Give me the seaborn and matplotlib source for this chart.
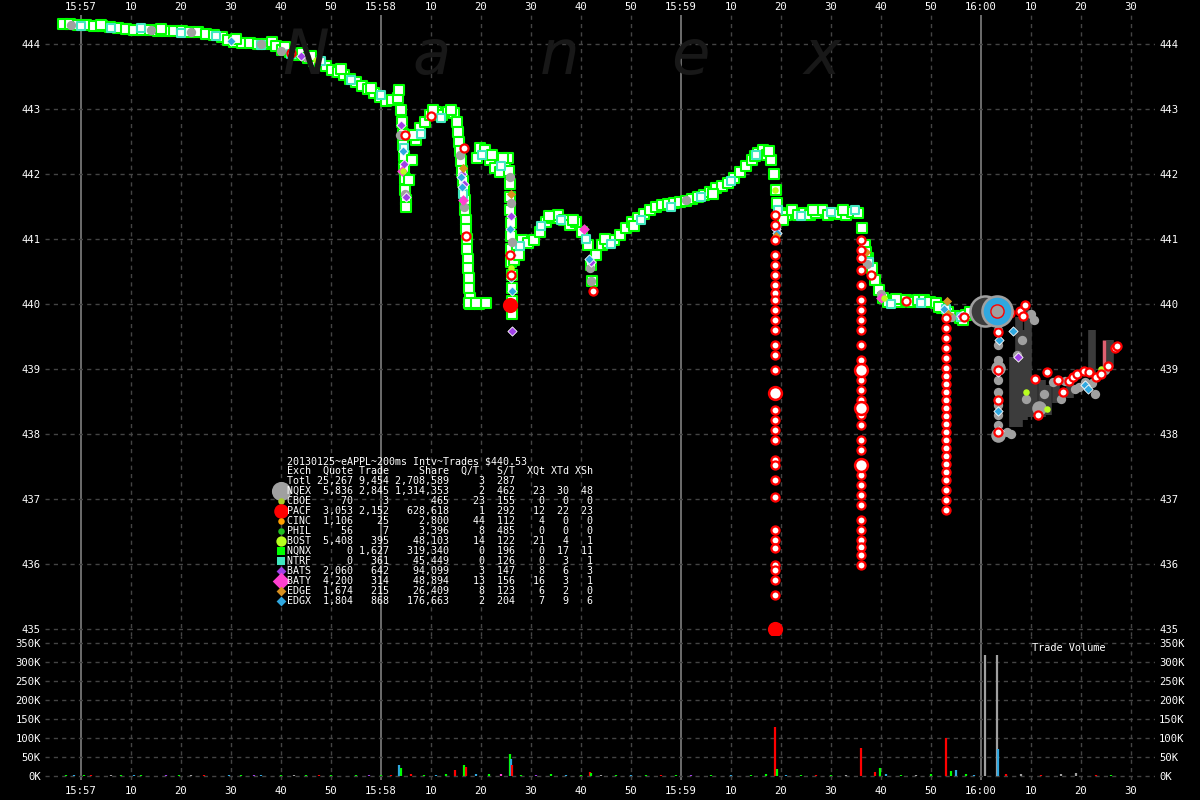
import matplotlib
matplotlib.use("Agg")
import matplotlib.pyplot as plt
import pandas as pd
import seaborn as sns

# Nanex style chart: AAPL trades 15:56:56 - 16:00:30, one point per trade
sns.set_theme(style="dark", rc={"axes.facecolor": "black", "figure.facecolor": "black"})
plt.rcParams["font.family"] = ["DejaVu Sans Mono", "DejaVu Sans"]

# time is seconds after 15:57:00
x_ticks = [0, 10, 20, 30, 40, 50, 60, 70, 80, 90, 100, 110, 120, 130, 140, 150, 160, 170, 180, 190, 200, 210]
x_labels = ["15:57", "10", "20", "30", "40", "50", "15:58", "10", "20", "30", "40", "50",
            "15:59", "10", "20", "30", "40", "50", "16:00", "10", "20", "30"]
minute_marks = [0, 60, 120, 180]
price_ticks = [435, 436, 437, 438, 439, 440, 441, 442, 443, 444]
vol_ticks = [0, 50000, 100000, 150000, 200000, 250000, 300000, 350000]
vol_labels = ["0K", "50K", "100K", "150K", "200K", "250K", "300K", "350K"]

# NQNX trades (main trail of squares)
nqnx = [(-3.6, 444.31), (-2.2, 444.31), (-0.6, 444.29), (1.0, 444.29), (2.6, 444.28), (4.2, 444.28),
        (5.8, 444.26), (7.4, 444.25), (9.0, 444.23), (10.6, 444.22), (12.2, 444.22), (13.8, 444.22),
        (15.4, 444.20), (17.0, 444.20), (18.6, 444.20), (20.2, 444.20), (21.8, 444.18), (23.4, 444.18),
        (25.0, 444.15), (26.6, 444.14), (28.2, 444.11), (29.4, 444.06), (30.6, 444.03), (32.2, 444.02),
        (33.8, 444.02), (35.4, 444.00), (37.0, 444.00), (38.2, 444.03), (39.0, 443.97), (40.2, 443.91),
        (41.8, 443.88), (43.0, 443.83), (44.2, 443.86), (45.4, 443.78), (46.6, 443.74), (47.8, 443.71),
        (49.0, 443.66), (50.2, 443.60), (51.4, 443.57), (52.6, 443.52), (53.8, 443.46), (55.0, 443.42),
        (56.2, 443.35), (57.4, 443.31), (58.6, 443.25), (59.8, 443.18), (61.0, 443.12), (62.2, 443.14),
        (63.4, 443.17), (64.0, 442.98), (64.2, 442.80), (64.4, 442.62), (64.4, 442.45), (64.6, 442.28),
        (64.6, 442.10), (64.8, 441.92), (64.8, 441.75), (65.0, 441.60), (65.0, 441.50), (65.6, 441.91),
        (66.2, 442.22), (67.0, 442.52), (67.8, 442.71), (68.8, 442.80), (69.8, 442.91), (71.0, 442.95),
        (72.2, 442.91), (73.4, 442.95), (74.6, 442.94), (75.2, 442.80), (75.4, 442.65), (75.6, 442.50),
        (75.8, 442.35), (76.0, 442.20), (76.2, 442.05), (76.4, 441.90), (76.6, 441.75), (76.8, 441.60),
        (76.8, 441.45), (77.0, 441.30), (77.0, 441.15), (77.2, 441.00), (77.2, 440.85), (77.4, 440.70),
        (77.4, 440.55), (77.6, 440.40), (77.6, 440.25), (77.8, 440.10), (77.8, 440.00), (79.6, 440.00),
        (81.0, 440.02), (79.2, 442.25), (79.8, 442.40), (80.8, 442.37), (81.8, 442.22), (82.8, 442.09),
        (83.8, 442.03), (84.8, 442.18), (85.4, 442.25), (85.6, 442.05), (85.8, 441.85), (85.8, 441.65),
        (85.8, 441.45), (86.0, 441.25), (86.0, 441.05), (86.0, 440.85), (86.0, 440.65), (86.2, 440.45),
        (86.2, 440.25), (86.2, 440.05), (86.2, 439.85), (86.6, 440.68), (87.2, 440.91), (88.2, 440.98),
        (89.4, 440.94), (90.6, 440.98), (91.8, 441.11), (93.0, 441.26), (94.2, 441.32), (95.4, 441.37),
        (96.6, 441.29), (97.8, 441.22), (99.0, 441.26), (100.2, 441.11), (101.4, 440.91), (102.0, 440.60),
        (102.2, 440.35), (103.0, 440.75), (104.2, 440.91), (105.4, 440.94), (106.6, 440.98), (107.8, 441.06),
        (109.0, 441.17), (110.2, 441.26), (111.4, 441.32), (112.6, 441.38), (113.8, 441.45), (115.0, 441.49),
        (116.2, 441.52), (117.4, 441.54), (118.6, 441.55), (119.8, 441.57), (121.0, 441.58), (122.2, 441.62),
        (123.4, 441.65), (124.6, 441.68), (125.8, 441.72), (127.0, 441.78), (128.2, 441.82), (129.4, 441.86),
        (130.6, 441.94), (131.8, 442.03), (133.0, 442.12), (134.2, 442.22), (135.4, 442.32), (136.4, 442.37),
        (137.2, 442.29), (138.0, 442.22), (138.6, 442.00), (139.0, 441.75), (139.2, 441.55), (139.8, 441.40),
        (141.0, 441.37), (142.2, 441.45), (143.4, 441.37), (144.6, 441.40), (145.8, 441.37), (147.0, 441.40),
        (148.2, 441.45), (149.4, 441.37), (150.6, 441.40), (151.8, 441.38), (153.0, 441.37), (154.2, 441.42),
        (155.4, 441.40), (156.2, 441.17), (156.8, 440.91), (157.4, 440.71), (158.2, 440.55), (158.8, 440.37),
        (159.6, 440.22), (160.4, 440.09), (161.4, 440.03), (162.6, 440.06), (163.8, 440.03), (165.0, 440.06),
        (166.2, 440.03), (167.4, 440.06), (168.6, 440.06), (169.8, 440.03), (171.0, 440.02), (172.2, 439.94),
        (173.4, 439.88), (174.6, 439.82), (175.8, 439.78), (177.0, 439.83), (177.8, 439.88)]

ntrf = [(0.0, 444.27), (6.0, 444.24), (12.0, 444.24), (20.0, 444.17), (27.0, 444.12), (36.0, 443.98),
        (42.0, 443.85), (48.0, 443.74), (54.0, 443.44), (60.0, 443.22), (64.6, 442.40), (68.0, 442.62),
        (72.0, 442.86), (76.4, 441.70), (80.2, 442.30), (84.0, 442.12), (87.8, 440.90), (92.0, 441.20),
        (96.0, 441.30), (101.0, 441.00), (106.0, 440.92), (112.0, 441.30), (118.0, 441.50), (124.0, 441.64),
        (130.0, 441.90), (135.0, 442.30), (139.4, 441.45), (144.0, 441.35), (150.0, 441.42), (154.8, 441.45),
        (157.6, 440.65), (162.0, 440.00), (168.0, 440.02), (173.0, 439.92), (176.0, 439.80)]

# scattered NQNX prints that sit off the main trail
nqnx_off = [(4.0, 444.30), (16.0, 444.23), (31.0, 444.07), (40.8, 443.96), (46.0, 443.82), (52.0, 443.62),
            (58.0, 443.32), (63.6, 443.30), (66.6, 442.60), (70.4, 442.99), (74.0, 442.98), (77.6, 440.02),
            (79.0, 440.02), (82.2, 442.30), (84.4, 442.25), (87.6, 440.75), (93.6, 441.35), (98.4, 441.30),
            (104.8, 441.00), (110.6, 441.20), (126.4, 441.70), (134.8, 442.28), (137.6, 442.35), (140.4, 441.30),
            (146.4, 441.45), (152.4, 441.45), (157.0, 440.80), (163.0, 440.08), (171.6, 439.95), (176.4, 439.75)]

nqex = [(-2.0, 444.30), (14.0, 444.22), (22.0, 444.18), (36.0, 444.00), (40.0, 443.90), (45.0, 443.80),
        (63.8, 442.60), (64.8, 441.70), (75.8, 442.30), (76.5, 441.50), (85.8, 441.95), (86.0, 441.55),
        (86.2, 440.95), (101.8, 440.55), (101.9, 440.35), (121.0, 441.60), (139.0, 441.20), (157.2, 440.62),
        (160.0, 440.15), (174.0, 439.80),
        (183.4, 439.75), (183.4, 439.60), (183.4, 439.37), (183.4, 439.14), (183.4, 438.83), (183.4, 438.65),
        (183.4, 438.45), (183.4, 438.29), (183.4, 438.14), (185.2, 438.03), (186.0, 438.00), (187.2, 439.21),
        (188.2, 439.44), (189.0, 438.54), (190.0, 439.85), (190.6, 439.75), (192.6, 438.62), (194.4, 438.80),
        (196.0, 438.54), (196.8, 438.82), (198.8, 438.69), (199.6, 438.73), (200.8, 438.80), (202.2, 438.78),
        (202.8, 438.62), (204.8, 438.98)]
nqex_big = [(183.4, 439.02), (183.3, 437.98), (191.6, 438.40)]

bats = [(44.0, 443.82), (64.0, 442.75), (64.6, 442.15), (65.0, 441.65), (76.2, 442.00), (76.6, 441.85),
        (86.0, 441.35), (86.1, 440.75), (86.2, 439.58), (102.0, 440.65), (139.0, 441.15), (176.0, 439.82),
        (183.3, 438.95), (183.5, 438.05), (187.4, 439.18)]
edgx = [(30.0, 444.05), (64.4, 442.35), (76.0, 441.95), (76.2, 441.80), (85.8, 441.15), (86.0, 440.40),
        (86.1, 440.20), (101.6, 440.70), (139.1, 441.10), (172.5, 439.92), (183.5, 439.45), (183.4, 438.35),
        (186.4, 439.58), (200.8, 438.75), (201.4, 438.70)]
edge = [(76.4, 442.10), (86.0, 441.70), (139.0, 441.05), (157.0, 440.80), (173.2, 440.05), (173.3, 439.85)]
baty = [(64.2, 442.05), (76.3, 441.60), (100.5, 441.15), (160.0, 440.10)]
bost = [(47.0, 443.75), (64.4, 442.05), (86.0, 440.55), (138.7, 441.75), (160.5, 440.10),
        (183.4, 438.55), (189.0, 438.65), (193.2, 438.38), (204.0, 439.00)]

# PACF trades: white dots edged red, the three plunges after 15:59
pacf = [(42.0, 443.86), (64.8, 442.60), (70.0, 442.90), (76.6, 442.40), (77.0, 441.05), (85.8, 440.75),
        (86.0, 440.45), (102.4, 440.20), (158.0, 440.45), (165.0, 440.05), (176.5, 439.80),
        (138.8, 441.37), (138.8, 441.22), (138.8, 440.98), (138.8, 440.75), (138.8, 440.60), (138.8, 440.45),
        (138.8, 440.29), (138.8, 440.17), (138.8, 440.06), (138.8, 439.91), (138.8, 439.75), (138.8, 439.60),
        (138.8, 439.37), (138.8, 439.22), (138.8, 438.98), (138.8, 438.37), (138.8, 438.22), (138.8, 438.06),
        (138.8, 437.91), (138.8, 437.60), (138.8, 437.52), (138.8, 437.29), (138.8, 437.03), (138.8, 436.52),
        (138.8, 436.37), (138.8, 436.25), (138.8, 435.98), (138.8, 435.91), (138.8, 435.75), (138.8, 435.52),
        (156.0, 440.98), (156.0, 440.83), (156.0, 440.71), (156.0, 440.52), (156.0, 440.29), (156.0, 440.06),
        (156.0, 439.91), (156.0, 439.75), (156.0, 439.60), (156.0, 439.37), (156.0, 439.14), (156.0, 438.83),
        (156.0, 438.68), (156.0, 438.52), (156.0, 438.29), (156.0, 438.14), (156.0, 437.91), (156.0, 437.75),
        (156.0, 437.37), (156.0, 437.22), (156.0, 437.06), (156.0, 436.91), (156.0, 436.68), (156.0, 436.52),
        (156.0, 436.37), (156.0, 436.26), (156.0, 436.14), (156.0, 435.98),
        (173.0, 439.78), (173.0, 439.63), (173.0, 439.48), (173.0, 439.32), (173.0, 439.17), (173.0, 439.02),
        (173.0, 438.89), (173.0, 438.77), (173.0, 438.65), (173.0, 438.52), (173.0, 438.40), (173.0, 438.28),
        (173.0, 438.15), (173.0, 438.03), (173.0, 437.91), (173.0, 437.78), (173.0, 437.66), (173.0, 437.54),
        (173.0, 437.42), (173.0, 437.29), (173.0, 437.14), (173.0, 436.98), (173.0, 436.83),
        (183.4, 439.78), (183.4, 439.57), (183.4, 438.98), (183.4, 438.52), (183.4, 438.03),
        (185.8, 439.86), (187.8, 439.89), (188.8, 439.98), (188.4, 439.81), (190.8, 438.85), (191.4, 438.30),
        (193.2, 438.95), (195.4, 438.83), (196.4, 438.65), (197.6, 438.82), (198.4, 438.88), (199.2, 438.92),
        (200.6, 438.97), (201.6, 438.95), (203.0, 438.88), (204.0, 438.93), (205.4, 439.05), (206.8, 439.32),
        (207.2, 439.35)]
pacf_big = [(138.8, 438.63), (156.0, 438.98), (156.0, 437.52), (156.0, 438.40)]
pacf_solid = [(138.8, 435.00), (85.8, 439.98)]

# the two large prints just after 16:00
big_prints = [(180.8, 439.89), (183.2, 439.89)]

# high-low bars after 16:00: time, low, high
bar_t = [186.4, 187.6, 188.6, 189.4, 190.6, 192.2, 193.4, 195.0, 197.8, 202.2, 205.8]
bar_lo = [438.11, 438.11, 438.22, 438.26, 438.26, 438.26, 438.29, 438.48, 438.55, 438.88, 439.03]
bar_hi = [439.18, 439.80, 439.60, 439.91, 438.83, 438.83, 438.75, 438.78, 438.83, 439.60, 439.45]

# trade volume per 200ms interval: time, shares, exchange
vol_t = [-3.0, -1.5, 0.5, 2.0, 3.5, 6.0, 8.0, 10.5, 12.0, 14.5, 17.0, 19.5, 22.0, 24.5, 27.0, 29.5,
         32.0, 34.5, 36.0, 38.0, 40.0, 42.5, 45.0, 47.5, 50.0, 52.5, 55.0, 57.5, 60.0, 62.0, 63.6, 64.0,
         66.0, 68.5, 71.0, 73.0, 74.8, 76.6, 77.0, 79.0, 81.5, 84.0, 85.8, 86.0, 86.2, 88.0, 91.0, 94.0,
         97.0, 100.0, 101.8, 102.0, 104.0, 107.0, 110.0, 113.0, 116.0, 119.0, 122.0, 126.0, 130.0, 134.0,
         137.0, 138.8, 139.2, 141.0, 144.0, 147.0, 150.0, 153.0, 156.0, 158.8, 159.8, 161.0, 164.0, 167.0,
         170.0, 173.0, 174.0, 175.0, 177.0, 178.5, 180.8, 183.2, 183.4, 185.0, 188.0, 192.0, 196.0, 199.0,
         203.0, 206.0]
vol_v = [2000, 1500, 2500, 1800, 1200, 2200, 1600, 1400, 2000, 1300, 1700, 2400, 1500, 1900, 1300, 2100,
         1800, 1500, 3000, 1200, 2600, 1800, 1400, 2300, 1600, 1200, 2000, 1500, 2800, 3500, 30000, 22000,
         4000, 2500, 3000, 5000, 16000, 30000, 25000, 6000, 4000, 5500, 58000, 45000, 30000, 3500, 2500, 4500,
         3000, 2200, 10000, 7000, 3000, 2000, 2500, 1800, 2200, 3000, 1500, 2600, 2000, 3500,
         4000, 128000, 18000, 3000, 2500, 2000, 3200, 2400, 75000, 10000, 20000, 6000, 3000, 2500,
         4000, 100000, 12000, 15000, 5000, 3000, 318000, 318000, 70000, 4000, 5000, 3000, 6000, 8000,
         3500, 2500]
vol_ex = ["NQNX", "EDGX", "NQNX", "PACF", "NQNX", "NQEX", "NQNX", "EDGX", "NQNX", "PACF", "BATS", "NQNX",
          "NQEX", "PACF", "NQNX", "EDGX", "NQNX", "BATS", "EDGX", "PACF", "NQNX", "NQEX", "NQNX", "PACF",
          "NQNX", "EDGX", "NQNX", "BATS", "NQNX", "PACF", "EDGX", "NQNX",
          "PACF", "NQNX", "EDGX", "NQNX", "PACF", "NQNX", "PACF", "EDGX", "NQNX", "BATY", "NQNX", "EDGX",
          "PACF", "NQNX", "BATS", "NQNX", "EDGX", "NQNX", "PACF", "NQNX", "NQEX", "NQNX", "EDGX", "NQNX",
          "PACF", "NQNX", "BATS", "NQNX", "EDGX", "NQNX", "NQNX", "PACF", "NQNX", "EDGX", "NQNX", "PACF",
          "NQNX", "NQEX", "PACF", "PACF", "NQNX", "EDGX", "NQNX", "NQEX", "NQNX", "PACF", "NQNX", "EDGX",
          "NQNX", "EDGX", "NQEX", "NQEX", "EDGX", "PACF", "NQEX", "PACF", "NQEX", "NQEX", "PACF", "NQNX"]

# summary table
exch = ["NQEX", "CBOE", "PACF", "CINC", "PHIL", "BOST", "NQNX", "NTRF", "BATS", "BATY", "EDGE", "EDGX"]
quote = [5836, 70, 3053, 1106, 56, 5408, 0, 0, 2060, 4200, 1674, 1804]
trade = [2845, 3, 2152, 25, 7, 395, 1627, 361, 642, 314, 215, 868]
share = [1314353, 465, 628618, 2800, 3396, 48103, 319340, 45449, 94099, 48894, 26409, 176663]
q_t = [2, 23, 1, 44, 8, 14, 0, 0, 3, 13, 8, 2]
s_t = [462, 155, 292, 112, 485, 122, 196, 126, 147, 156, 123, 204]
x_qt = [23, 0, 12, 4, 0, 21, 0, 0, 8, 16, 6, 7]
x_td = [30, 0, 22, 0, 0, 4, 17, 3, 6, 3, 2, 9]
x_sh = [48, 0, 23, 0, 0, 1, 11, 1, 3, 1, 0, 6]
total = ["Totl", 25267, 9454, 2708589, 3, 287]

colors = {"NQEX": "#a0a0a0", "CBOE": "#a8d028", "PACF": "#ff0000", "CINC": "#ffa000",
          "PHIL": "#20c020", "BOST": "#b8ff20", "NQNX": "#00ff00", "NTRF": "#40e8c0",
          "BATS": "#a040e8", "BATY": "#ff40d0", "EDGE": "#d89020", "EDGX": "#30a8e0"}
legend_style = {"NQEX": ("o", 190), "CBOE": ("o", 22), "PACF": ("o", 110), "CINC": ("o", 22),
                "PHIL": ("o", 22), "BOST": ("o", 55), "NQNX": ("s", 28), "NTRF": ("s", 28),
                "BATS": ("D", 25), "BATY": ("D", 80), "EDGE": ("D", 25), "EDGX": ("D", 25)}

W, H = 1200, 800
fig = plt.figure(figsize=(12, 8), dpi=100)
fig.patch.set_facecolor("black")
ax = fig.add_axes([45 / W, 1 - 636 / H, 1110 / W, 621 / H])
axv = fig.add_axes([45 / W, 1 - 780 / H, 1110 / W, 144 / H])

x_lo, x_hi = -7.2, 214.8
ax.set_xlim(x_lo, x_hi)
ax.set_ylim(444 - 592 / 65, 444 + 29 / 65)
axv.set_xlim(x_lo, x_hi)
axv.set_ylim(-4 / 19 * 50000, 140 / 19 * 50000)

grid_col = "#444444"
for a in (ax, axv):
    a.set_facecolor("black")
    a.grid(False)
    for s in a.spines.values():
        s.set_visible(False)
    for t in x_ticks:
        if t in minute_marks:
            a.axvline(t, color="#8a8a8a", lw=1.1, zorder=1)
        else:
            a.axvline(t, color=grid_col, lw=1, ls=(0, (3, 3)), zorder=1)
    a.set_xticks(x_ticks)
for p in price_ticks:
    ax.axhline(p, color=grid_col, lw=1, ls=(0, (3, 3)), zorder=1)
for v in vol_ticks:
    axv.axhline(v, color=grid_col, lw=1, ls=(0, (3, 3)), zorder=1)

# watermark
for letter, xp in zip(["N", "a", "n", "e", "x"], [306, 432, 560, 690, 822]):
    fig.text(xp / W, 1 - 74 / H, letter, color="#181818", fontsize=45, style="italic",
             family="DejaVu Sans", ha="center", va="baseline", zorder=0)


def draw(points, marker, size, face, edge, lw, z):
    df = pd.DataFrame(points, columns=["t", "p"])
    sns.scatterplot(data=df, x="t", y="p", marker=marker, s=size, color=face,
                    edgecolor=edge, linewidth=lw, ax=ax, zorder=z, legend=False)


# high-low bars after the close
ax.vlines(bar_t, bar_lo, bar_hi, color="#3c3c3c", lw=5.5, zorder=2)
ax.vlines([204.6], [438.95], [439.45], color="#e06070", lw=2.5, zorder=2)

draw(nqnx, "s", 46, "white", colors["NQNX"], 1.5, 3)
draw(nqnx_off, "s", 46, "white", colors["NQNX"], 1.5, 3)
draw(ntrf, "s", 40, "white", colors["NTRF"], 1.5, 3)
draw(nqex, "o", 45, colors["NQEX"], colors["NQEX"], 0, 4)
draw(nqex_big, "o", 110, colors["NQEX"], colors["NQEX"], 0, 4)
draw(bats, "D", 22, colors["BATS"], "white", 0.6, 5)
draw(edgx, "D", 22, colors["EDGX"], "white", 0.6, 5)
draw(edge, "D", 22, colors["EDGE"], colors["EDGE"], 0, 5)
draw(baty, "D", 30, colors["BATY"], colors["BATY"], 0, 5)
draw(bost, "o", 22, colors["BOST"], colors["BOST"], 0, 5)
draw(pacf, "o", 34, "white", colors["PACF"], 1.6, 5)
draw(pacf_big, "o", 85, "white", colors["PACF"], 1.8, 5)
draw(pacf_solid, "o", 120, colors["PACF"], colors["PACF"], 0, 5)
draw(big_prints[:1], "o", 470, "#3c3c3c", colors["NQEX"], 1.8, 6)
draw(big_prints[1:], "o", 470, colors["EDGX"], colors["NQEX"], 1.8, 6)
draw(big_prints[1:], "o", 90, colors["NQEX"], colors["PACF"], 1.0, 7)

# volume panel
axv.vlines(vol_t, 0, vol_v, colors=[colors[e] for e in vol_ex], lw=1.6, zorder=3)
axv.text(190.2, 337000, "Trade Volume", color="white", fontsize=7.4, va="center", ha="left")

# axis text (after seaborn, which sets its own labels)
tick_font = dict(colors="white", labelsize=7.6, length=0)
for a in (ax, axv):
    a.set_xlabel("")
    a.set_ylabel("")
    a.set_xticks(x_ticks)
    a.set_xticklabels(x_labels)
ax.set_yticks(price_ticks)
ax.set_yticklabels([str(p) for p in price_ticks])
ax.tick_params(axis="x", labeltop=True, labelbottom=False, pad=2, **tick_font)
ax.tick_params(axis="y", labelleft=True, labelright=True, pad=3, **tick_font)
axv.set_yticks(vol_ticks)
axv.set_yticklabels(vol_labels)
axv.tick_params(axis="x", labelbottom=True, pad=4, **tick_font)
axv.tick_params(axis="y", labelleft=True, labelright=True, pad=3, **tick_font)
ax.set_xlim(x_lo, x_hi)
axv.set_xlim(x_lo, x_hi)

# summary table
row_y = 461
fig.text(287 / W, 1 - row_y / H, "20130125~eAPPL~200ms Intv~Trades $440.53",
         color="white", fontsize=7.2, va="center", ha="left")
fig.text(287 / W, 1 - (row_y + 10) / H, "Exch  Quote Trade     Share  Q/T   S/T  XQt XTd XSh",
         color="white", fontsize=7.2, va="center", ha="left")
tot = "{:<4}{:>7}{:>6}{:>10}{:>6}{:>5}".format(total[0], f"{total[1]:,}", f"{total[2]:,}",
                                               f"{total[3]:,}", total[4], total[5])
fig.text(287 / W, 1 - (row_y + 20) / H, tot, color="white", fontsize=7.2, va="center", ha="left")
for i, e in enumerate(exch):
    yy = row_y + 30 + 10 * i
    line = "{:<4}{:>7}{:>6}{:>10}{:>6}{:>5}{:>5}{:>4}{:>4}".format(
        e, f"{quote[i]:,}", f"{trade[i]:,}", f"{share[i]:,}", q_t[i], s_t[i], x_qt[i], x_td[i], x_sh[i])
    fig.text(287 / W, 1 - yy / H, line, color="white", fontsize=7.2, va="center", ha="left")
    m, sz = legend_style[e]
    ax.scatter([(281 - 81) / 5], [444 + (44 - yy) / 65], marker=m, s=sz, color=colors[e],
               linewidths=0, zorder=8)

fig.savefig("out.png", dpi=100, facecolor="black")
